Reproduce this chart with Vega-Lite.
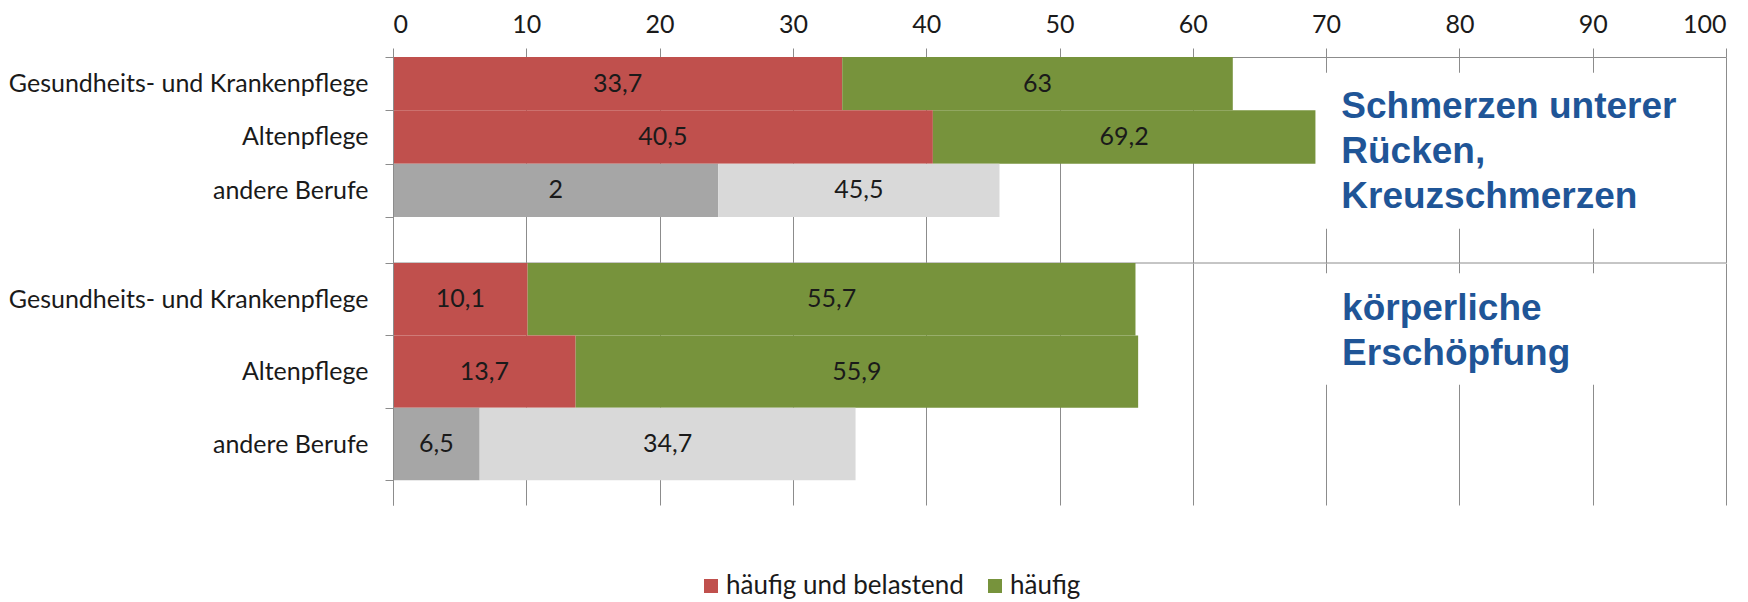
{
  "$schema": "https://vega.github.io/schema/vega-lite/v6.json",
  "padding": 0,
  "background": "white",
  "spacing": 0,
  "bounds": "flush",
  "config": {
    "view": {"stroke": null},
    "concat": {"spacing": 0},
    "font": "Lato",
    "axis": {
      "labelFont": "Lato",
      "labelFontSize": 25,
      "labelColor": "#1a1a1a",
      "domainColor": "#8c8c8c",
      "tickColor": "#8c8c8c",
      "gridColor": "#8c8c8c",
      "gridOpacity": 1,
      "domainWidth": 1,
      "tickWidth": 1,
      "gridWidth": 1,
      "title": null
    },
    "legend": {
      "labelFont": "Lato",
      "labelFontSize": 26,
      "labelColor": "#1a1a1a",
      "labelLimit": 400
    }
  },
  "datasets": {
    "werte": [
      {"gruppe": "Schmerzen", "beruf": "Gesundheits- und Krankenpflege", "kategorie": "häufig und belastend", "anteil": 33.7, "beschriftung": "33,7"},
      {"gruppe": "Schmerzen", "beruf": "Gesundheits- und Krankenpflege", "kategorie": "häufig", "anteil": 29.3, "beschriftung": "63"},
      {"gruppe": "Schmerzen", "beruf": "Altenpflege", "kategorie": "häufig und belastend", "anteil": 40.5, "beschriftung": "40,5"},
      {"gruppe": "Schmerzen", "beruf": "Altenpflege", "kategorie": "häufig", "anteil": 28.7, "beschriftung": "69,2"},
      {"gruppe": "Schmerzen", "beruf": "andere Berufe", "kategorie": "häufig und belastend (andere Berufe)", "anteil": 24.4, "beschriftung": "2"},
      {"gruppe": "Schmerzen", "beruf": "andere Berufe", "kategorie": "häufig (andere Berufe)", "anteil": 21.1, "beschriftung": "45,5"},
      {"gruppe": "Erschöpfung", "beruf": "Gesundheits- und Krankenpflege", "kategorie": "häufig und belastend", "anteil": 10.1, "beschriftung": "10,1"},
      {"gruppe": "Erschöpfung", "beruf": "Gesundheits- und Krankenpflege", "kategorie": "häufig", "anteil": 45.6, "beschriftung": "55,7"},
      {"gruppe": "Erschöpfung", "beruf": "Altenpflege", "kategorie": "häufig und belastend", "anteil": 13.7, "beschriftung": "13,7"},
      {"gruppe": "Erschöpfung", "beruf": "Altenpflege", "kategorie": "häufig", "anteil": 42.2, "beschriftung": "55,9"},
      {"gruppe": "Erschöpfung", "beruf": "andere Berufe", "kategorie": "häufig und belastend (andere Berufe)", "anteil": 6.5, "beschriftung": "6,5"},
      {"gruppe": "Erschöpfung", "beruf": "andere Berufe", "kategorie": "häufig (andere Berufe)", "anteil": 28.2, "beschriftung": "34,7"}
    ]
  },
  "resolve": {"scale": {"y": "independent", "x": "independent", "color": "shared"}, "axis": {"x": "independent", "y": "independent"}, "legend": {"color": "shared"}},
  "vconcat": [
    {
      "width": 1333,
      "height": 205.4,
      "encoding": {
        "y": {
          "field": "beruf", "type": "nominal",
          "scale": {"domain": ["Gesundheits- und Krankenpflege", "Altenpflege", "andere Berufe"], "paddingInner": 0, "paddingOuter": 0.426, "align": 0},
          "axis": {"orient": "left", "tickBand": "extent", "tickSize": 8, "labelPadding": 17, "labelLimit": 500, "minExtent": 393, "maxExtent": 393, "domain": true, "grid": false}
        }
      },
      "layer": [
        {
          "data": {"name": "werte"},
          "transform": [{"filter": "datum.gruppe == 'Schmerzen' && datum.beruf == 'Altenpflege' && datum.kategorie == 'häufig'"}],
          "mark": {"type": "rect", "color": "white"},
          "encoding": {
            "x": {"datum": 65, "type": "quantitative", "scale": {"domain": [0, 100], "nice": false},
                  "axis": {"orient": "top", "values": [0, 10, 20, 30, 40, 50, 60, 70, 80, 90, 100], "grid": true, "tickSize": 9, "labelPadding": 11, "minExtent": 57, "maxExtent": 57}},
            "x2": {"datum": 99.85},
            "y": {"datum": "Gesundheits- und Krankenpflege", "type": "nominal", "bandPosition": 0.295},
            "y2": {"datum": "andere Berufe", "bandPosition": 1.22}
          }
        },
        {
          "data": {"name": "werte"},
          "transform": [{"filter": "datum.gruppe == 'Schmerzen'"}],
          "mark": {"type": "bar"},
          "encoding": {
            "x": {"field": "anteil", "type": "quantitative", "stack": "zero"},
            "color": {
              "field": "kategorie", "type": "nominal",
              "scale": {"domain": ["häufig und belastend", "häufig", "häufig und belastend (andere Berufe)", "häufig (andere Berufe)"], "range": ["#C0504D", "#77933C", "#A6A6A6", "#D9D9D9"]},
              "legend": {"values": ["häufig und belastend", "häufig"], "orient": "none", "legendX": 305, "legendY": 516, "direction": "horizontal", "title": null, "symbolType": "square", "symbolSize": 196, "symbolStrokeWidth": 0, "labelOffset": 2, "columnPadding": 18, "padding": 0, "labelLimit": 400}
            },
            "order": {"field": "kategorie", "sort": "descending"}
          }
        },
        {
          "data": {"name": "werte"},
          "transform": [{"filter": "datum.gruppe == 'Schmerzen'"}],
          "mark": {"type": "text", "font": "Lato", "fontSize": 25, "color": "#1a1a1a"},
          "encoding": {
            "x": {"field": "anteil", "type": "quantitative", "stack": "zero", "bandPosition": 0.5},
            "detail": {"field": "kategorie"},
            "order": {"field": "kategorie", "sort": "descending"},
            "text": {"field": "beschriftung"}
          }
        },
        {
          "data": {"name": "werte"},
          "transform": [{"filter": "datum.gruppe == 'Schmerzen' && datum.beruf == 'Altenpflege' && datum.kategorie == 'häufig'"}],
          "mark": {"type": "text", "text": ["Schmerzen unterer", "Rücken,", "Kreuzschmerzen"], "font": "Liberation Sans", "fontWeight": "bold", "fontSize": 37, "lineHeight": 45, "color": "#1F5597", "align": "left", "baseline": "alphabetic"},
          "encoding": {
            "x": {"datum": 71.14, "type": "quantitative"},
            "y": {"datum": "Altenpflege", "type": "nominal", "bandPosition": 0.137}
          }
        }
      ]
    },
    {
      "width": 1333,
      "height": 242,
      "encoding": {
        "y": {
          "field": "beruf", "type": "nominal",
          "scale": {"domain": ["Gesundheits- und Krankenpflege", "Altenpflege", "andere Berufe"], "paddingInner": 0, "paddingOuter": 0.171, "align": 0},
          "axis": {"orient": "left", "tickBand": "extent", "tickSize": 8, "labelPadding": 17, "labelLimit": 500, "minExtent": 393, "maxExtent": 393, "domain": true, "grid": false}
        }
      },
      "layer": [
        {
          "data": {"name": "werte"},
          "transform": [{"filter": "datum.gruppe == 'Erschöpfung' && datum.beruf == 'Altenpflege' && datum.kategorie == 'häufig'"}],
          "mark": {"type": "rect", "color": "white"},
          "encoding": {
            "x": {"datum": 65, "type": "quantitative", "scale": {"domain": [0, 100], "nice": false},
                  "axis": {"orient": "bottom", "values": [0, 10, 20, 30, 40, 50, 60, 70, 80, 90, 100], "grid": true, "labels": false, "ticks": false, "domain": false, "minExtent": 0, "maxExtent": 0}},
            "x2": {"datum": 99.85},
            "y": {"datum": "Gesundheits- und Krankenpflege", "type": "nominal", "bandPosition": 0.14},
            "y2": {"datum": "Altenpflege", "bandPosition": 0.68}
          }
        },
        {
          "data": {"name": "werte"},
          "transform": [{"filter": "datum.gruppe == 'Erschöpfung' && datum.beruf == 'Altenpflege' && datum.kategorie == 'häufig'"}],
          "mark": {"type": "rule", "color": "#8c8c8c", "strokeWidth": 1},
          "encoding": {
            "x": {"datum": 0, "type": "quantitative"},
            "x2": {"datum": 100},
            "y": {"datum": "Gesundheits- und Krankenpflege", "type": "nominal", "bandPosition": 0}
          }
        },
        {
          "data": {"name": "werte"},
          "transform": [{"filter": "datum.gruppe == 'Erschöpfung'"}],
          "mark": {"type": "bar"},
          "encoding": {
            "x": {"field": "anteil", "type": "quantitative", "stack": "zero"},
            "color": {
              "field": "kategorie", "type": "nominal",
              "scale": {"domain": ["häufig und belastend", "häufig", "häufig und belastend (andere Berufe)", "häufig (andere Berufe)"], "range": ["#C0504D", "#77933C", "#A6A6A6", "#D9D9D9"]},
              "legend": {"values": ["häufig und belastend", "häufig"], "orient": "none", "legendX": 305, "legendY": 516, "direction": "horizontal", "title": null, "symbolType": "square", "symbolSize": 196, "symbolStrokeWidth": 0, "labelOffset": 2, "columnPadding": 18, "padding": 0, "labelLimit": 400}
            },
            "order": {"field": "kategorie", "sort": "descending"}
          }
        },
        {
          "data": {"name": "werte"},
          "transform": [{"filter": "datum.gruppe == 'Erschöpfung'"}],
          "mark": {"type": "text", "font": "Lato", "fontSize": 25, "color": "#1a1a1a"},
          "encoding": {
            "x": {"field": "anteil", "type": "quantitative", "stack": "zero", "bandPosition": 0.5},
            "detail": {"field": "kategorie"},
            "order": {"field": "kategorie", "sort": "descending"},
            "text": {"field": "beschriftung"}
          }
        },
        {
          "data": {"name": "werte"},
          "transform": [{"filter": "datum.gruppe == 'Erschöpfung' && datum.beruf == 'Altenpflege' && datum.kategorie == 'häufig'"}],
          "mark": {"type": "text", "text": ["körperliche", "Erschöpfung"], "font": "Liberation Sans", "fontWeight": "bold", "fontSize": 37, "lineHeight": 45, "color": "#1F5597", "align": "left", "baseline": "alphabetic"},
          "encoding": {
            "x": {"datum": 71.2, "type": "quantitative"},
            "y": {"datum": "Gesundheits- und Krankenpflege", "type": "nominal", "bandPosition": 0.79}
          }
        }
      ]
    }
  ]
}
